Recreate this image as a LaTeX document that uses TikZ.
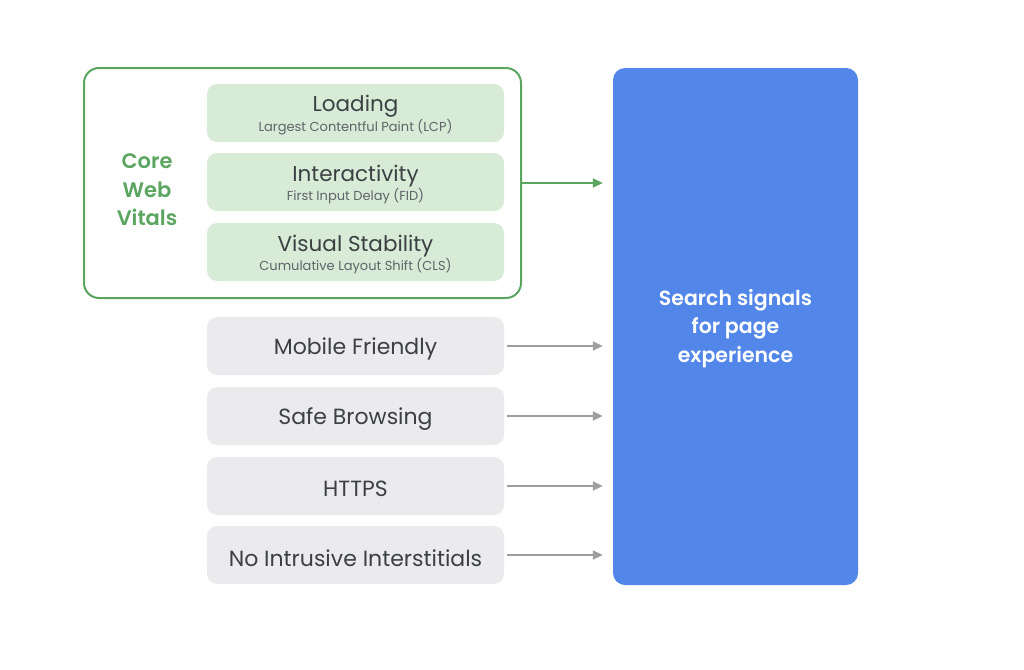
\documentclass[tikz,border=0pt]{standalone}
\usepackage{fontspec}
\setmainfont{Poppins}
\newfontfamily\semib{Poppins SemiBold}
\usetikzlibrary{arrows.meta}
\definecolor{gline}{HTML}{5BA561}
\definecolor{gfill}{HTML}{D7EBD7}
\definecolor{grayfill}{HTML}{EBEBED}
\definecolor{bluefill}{HTML}{5286E8}
\definecolor{txt}{HTML}{3C4043}
\definecolor{subtxt}{HTML}{5F6368}
\definecolor{arrgray}{HTML}{9E9E9E}
\tikzset{
  boxbase/.style={rectangle, rounded corners=10pt, draw=none, minimum width=297pt, minimum height=58pt, inner sep=0pt},
  metric/.style={boxbase, fill=gfill},
  signal/.style={boxbase, fill=grayfill},
  mtext/.style={align=center, text=txt, inner sep=0pt, yshift=-2.5pt},
  stext/.style={text=txt, inner sep=0pt, yshift=-3pt, font=\fontsize{22}{26}\selectfont},
  grayarr/.style={draw=arrgray, line width=1.8pt, -{Triangle[length=10pt,width=9pt]}, shorten >=10pt, shorten <=3pt},
  greenarr/.style={draw=gline, line width=1.8pt, -{Triangle[length=10pt,width=9pt]}, shorten >=10pt}
}
\newcommand{\mtitle}[1]{{\fontsize{21.5}{24}\selectfont #1}}
\newcommand{\msub}[1]{{\fontsize{13}{15}\selectfont\color{subtxt}#1}}
\begin{document}
\begin{tikzpicture}[x=1pt,y=-1pt]
\useasboundingbox (0,0) rectangle (1024,669);
\node[rectangle, rounded corners=15pt, draw=gline, line width=2pt, minimum width=437pt, minimum height=230pt] (cwv) at (302.5,183) {};
\node[align=center, text=gline, font=\fontsize{21}{28.5}\selectfont\semib] (cwvlabel) at (147,190) {Core\\Web\\Vitals};
\node[metric] (lcp) at (355.5,113) {};
\node[metric] (fid) at (355.5,182) {};
\node[metric] (cls) at (355.5,252) {};
\node[mtext] (lcpt) at (lcp.center) {\mtitle{Loading}\\[1pt]\msub{Largest Contentful Paint (LCP)}};
\node[mtext] (fidt) at (fid.center) {\mtitle{Interactivity}\\[1pt]\msub{First Input Delay (FID)}};
\node[mtext] (clst) at (cls.center) {\mtitle{Visual Stability}\\[1pt]\msub{Cumulative Layout Shift (CLS)}};
\node[signal] (mob) at (355.5,346) {};
\node[signal] (safe) at (355.5,416) {};
\node[signal] (https) at (355.5,486) {};
\node[signal] (noint) at (355.5,555) {};
\node[stext] (mobt) at (mob.center) {Mobile Friendly};
\node[stext] (safet) at (safe.center) {Safe Browsing};
\node[stext] (httpst) at (https.center) {HTTPS};
\node[stext] (nointt) at (noint.center) {No Intrusive Interstitials};
\node[rectangle, rounded corners=12pt, fill=bluefill, draw=none, minimum width=245pt, minimum height=517pt] (blue) at (735.5,326.5) {};
\node[text=white, align=center, font=\fontsize{20.5}{28.5}\selectfont\semib] (bluet) at (735.5,328.5) {Search signals\\for page\\experience};
\draw[greenarr] (cwv.east) -- (cwv.east -| blue.west);
\foreach \n in {mob,safe,https,noint}
  \draw[grayarr] (\n.east) -- (\n.east -| blue.west);
\end{tikzpicture}
\end{document}
